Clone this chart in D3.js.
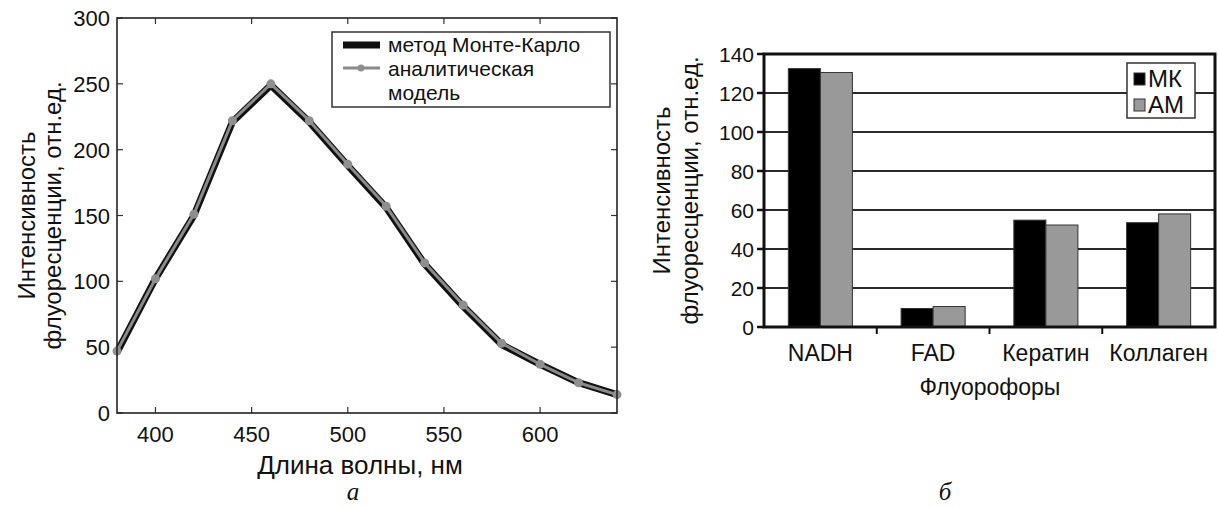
<!DOCTYPE html>
<meta charset="utf-8">
<style>
body{
    margin:0;
    background:#fff;
}
svg text{
    font-family:"Liberation Sans", Arial, sans-serif;
    fill:#111;
}
.frame{
    fill:none;
    stroke:#222;
    stroke-width:1.6px;
}
.caption{
    font-family:"Liberation Serif", "Times New Roman", serif !important;
    font-style:italic;
    font-size:25px;
}
</style>
<body>
<script src="https://cdn.jsdelivr.net/npm/d3@7"></script>
<script>
// --- data: left panel (spectrum) ---
var wavelengths = [380, 400, 420, 440, 460, 480, 500, 520, 540, 560, 580, 600, 620, 640];
var mcValues    = [46, 102, 150, 221, 249, 221, 188, 156, 113, 81, 52, 37, 23, 14];
var amValues    = [47, 102, 151, 222, 250, 222, 189, 157, 114, 82, 53, 37, 23, 14];
var xTicksA = [400, 450, 500, 550, 600];
var yTicksA = [0, 50, 100, 150, 200, 250, 300];

// --- data: right panel (bars) ---
var fluorophores = ["NADH", "FAD", "Кератин", "Коллаген"];
var mkValues = [132.5, 9.5, 54.8, 53.5];
var amBarValues = [130.5, 10.5, 52.3, 58];
var yTicksB = [0, 20, 40, 60, 80, 100, 120, 140];

var svg = d3.select("body").append("svg").attr("width", 1219).attr("height", 508);

// ================= panel a =================
var xA = d3.scaleLinear().domain([380, 640]).range([117, 617]);
var yA = d3.scaleLinear().domain([0, 300]).range([413, 18]);
var gA = svg.append("g");

// ticks inward on all four sides
xTicksA.forEach(function(t){
    gA.append("line").attr("x1", xA(t)).attr("x2", xA(t)).attr("y1", yA(0)).attr("y2", yA(0) - 6)
        .attr("stroke", "#333").attr("stroke-width", 1.2);
    gA.append("line").attr("x1", xA(t)).attr("x2", xA(t)).attr("y1", yA(300)).attr("y2", yA(300) + 6)
        .attr("stroke", "#333").attr("stroke-width", 1.2);
    gA.append("text").attr("x", xA(t)).attr("y", yA(0) + 29).attr("text-anchor", "middle")
        .attr("font-size", 22).text(t);
});
yTicksA.forEach(function(t){
    gA.append("line").attr("x1", xA(380)).attr("x2", xA(380) + 6).attr("y1", yA(t)).attr("y2", yA(t))
        .attr("stroke", "#333").attr("stroke-width", 1.2);
    gA.append("line").attr("x1", xA(640)).attr("x2", xA(640) - 6).attr("y1", yA(t)).attr("y2", yA(t))
        .attr("stroke", "#333").attr("stroke-width", 1.2);
    gA.append("text").attr("x", 110).attr("y", yA(t) + 8).attr("text-anchor", "end")
        .attr("font-size", 22).text(t);
});

var lineA = d3.line().x(function(d){ return xA(d[0]); }).y(function(d){ return yA(d[1]); });
var mcPts = wavelengths.map(function(w, i){ return [w, mcValues[i]]; });
var amPts = wavelengths.map(function(w, i){ return [w, amValues[i]]; });

gA.append("path").datum(mcPts).attr("d", lineA)
    .attr("fill", "none").attr("stroke", "#111").attr("stroke-width", 7).attr("stroke-linejoin", "round");
gA.append("path").datum(amPts).attr("d", lineA)
    .attr("fill", "none").attr("stroke", "#8a8a8a").attr("stroke-width", 3).attr("stroke-linejoin", "round");
gA.selectAll("circle.pt").data(amPts).enter().append("circle")
    .attr("class", "pt")
    .attr("cx", function(d){ return xA(d[0]); })
    .attr("cy", function(d){ return yA(d[1]); })
    .attr("r", 4.5).attr("fill", "#8f8f8f");

gA.append("rect").attr("class", "frame")
    .attr("x", xA(380)).attr("y", yA(300)).attr("width", xA(640) - xA(380)).attr("height", yA(0) - yA(300));

// legend
var legA = gA.append("g");
legA.append("rect").attr("x", 332).attr("y", 32).attr("width", 278).attr("height", 75)
    .attr("fill", "#fff").attr("stroke", "#333").attr("stroke-width", 1.5);
legA.append("line").attr("x1", 343).attr("x2", 380).attr("y1", 45).attr("y2", 45)
    .attr("stroke", "#111").attr("stroke-width", 7);
legA.append("line").attr("x1", 343).attr("x2", 380).attr("y1", 68).attr("y2", 68)
    .attr("stroke", "#8a8a8a").attr("stroke-width", 3);
legA.append("circle").attr("cx", 361).attr("cy", 68).attr("r", 3.5).attr("fill", "#8f8f8f");
legA.append("text").attr("x", 388).attr("y", 52).attr("font-size", 21).text("метод Монте-Карло");
legA.append("text").attr("x", 388).attr("y", 76).attr("font-size", 21).text("аналитическая");
legA.append("text").attr("x", 388).attr("y", 100).attr("font-size", 21).text("модель");

// axis titles
gA.append("text").attr("x", 360).attr("y", 474).attr("text-anchor", "middle")
    .attr("font-size", 26).text("Длина волны, нм");
gA.append("text").attr("transform", "translate(35," + (yA(150)) + ") rotate(-90)")
    .attr("text-anchor", "middle").attr("font-size", 24).text("Интенсивность");
gA.append("text").attr("transform", "translate(61," + (yA(150)) + ") rotate(-90)")
    .attr("text-anchor", "middle").attr("font-size", 24).text("флуоресценции, отн.ед.");

svg.append("text").attr("class", "caption").attr("x", 353).attr("y", 500)
    .attr("text-anchor", "middle").text("а");

// ================= panel б =================
var xB = d3.scaleBand().domain(fluorophores).range([764, 1215]);
var xInner = d3.scaleBand().domain(["mk", "am"]).range([0, xB.bandwidth()]).paddingOuter(0.76);
var yB = d3.scaleLinear().domain([0, 140]).range([327, 54]);
var gB = svg.append("g");

// gridlines
yTicksB.forEach(function(t){
    if(t > 0 && t < 140){
        gB.append("line").attr("x1", 764).attr("x2", 1215).attr("y1", yB(t)).attr("y2", yB(t))
            .attr("stroke", "#2a2a2a").attr("stroke-width", 1.8);
    }
});

// bars
var barData = [];
fluorophores.forEach(function(f, i){
    barData.push({cat:f, key:"mk", v:mkValues[i]});
    barData.push({cat:f, key:"am", v:amBarValues[i]});
});
gB.selectAll("rect.bar").data(barData).enter().append("rect")
    .attr("class", "bar")
    .attr("x", function(d){ return xB(d.cat) + xInner(d.key); })
    .attr("y", function(d){ return yB(d.v); })
    .attr("width", xInner.bandwidth())
    .attr("height", function(d){ return yB(0) - yB(d.v); })
    .attr("fill", function(d){ return d.key == "mk" ? "#000" : "#999"; })
    .attr("stroke", "#333").attr("stroke-width", 1);

// frame: heavy axis lines + border
gB.append("rect").attr("x", 764).attr("y", 54).attr("width", 1215 - 764).attr("height", 327 - 54)
    .attr("fill", "none").attr("stroke", "#111").attr("stroke-width", 3);

// y ticks and labels
yTicksB.forEach(function(t){
    gB.append("line").attr("x1", 757).attr("x2", 764).attr("y1", yB(t)).attr("y2", yB(t))
        .attr("stroke", "#111").attr("stroke-width", 2.5);
    gB.append("text").attr("x", 754).attr("y", yB(t) + 8).attr("text-anchor", "end")
        .attr("font-size", 21).text(t);
});
// x ticks at category boundaries
fluorophores.forEach(function(f, i){
    if(i > 0){
        gB.append("line").attr("x1", xB(f)).attr("x2", xB(f)).attr("y1", 327).attr("y2", 334)
            .attr("stroke", "#111").attr("stroke-width", 2);
    }
    gB.append("text").attr("x", xB(f) + xB.bandwidth() / 2).attr("y", 361)
        .attr("text-anchor", "middle").attr("font-size", 23).text(f);
});

gB.append("text").attr("x", 990).attr("y", 395).attr("text-anchor", "middle")
    .attr("font-size", 23).text("Флуорофоры");
gB.append("text").attr("transform", "translate(670," + yB(70) + ") rotate(-90)")
    .attr("text-anchor", "middle").attr("font-size", 24).text("Интенсивность");
gB.append("text").attr("transform", "translate(698," + yB(70) + ") rotate(-90)")
    .attr("text-anchor", "middle").attr("font-size", 24).text("флуоресценции, отн.ед.");

// legend
var legB = gB.append("g");
legB.append("rect").attr("x", 1127).attr("y", 63).attr("width", 68).attr("height", 55)
    .attr("fill", "#fff").attr("stroke", "#333").attr("stroke-width", 1.5);
legB.append("rect").attr("x", 1134).attr("y", 73).attr("width", 11).attr("height", 12)
    .attr("fill", "#000").attr("stroke", "#333");
legB.append("rect").attr("x", 1134).attr("y", 99).attr("width", 11).attr("height", 12)
    .attr("fill", "#999").attr("stroke", "#333");
legB.append("text").attr("x", 1148).attr("y", 87).attr("font-size", 24).text("МК");
legB.append("text").attr("x", 1148).attr("y", 113).attr("font-size", 24).text("АМ");

svg.append("text").attr("class", "caption").attr("x", 945).attr("y", 500)
    .attr("text-anchor", "middle").text("б");
</script>
